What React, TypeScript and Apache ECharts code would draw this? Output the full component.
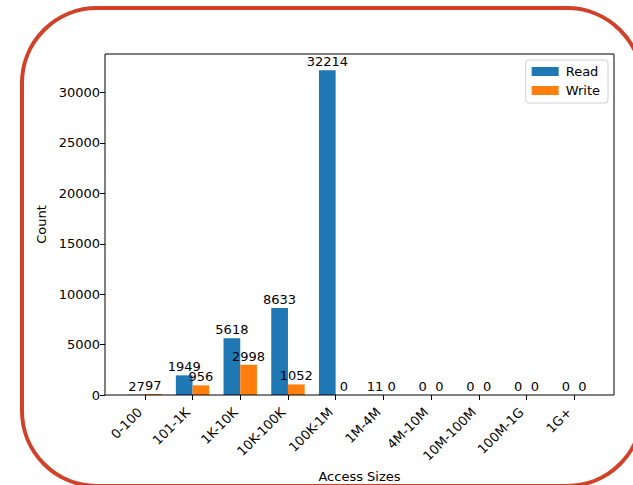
import React, { useEffect, useRef } from "react";
import * as echarts from "echarts";

const categories = ["0-100", "101-1K", "1K-10K", "10K-100K", "100K-1M", "1M-4M", "4M-10M", "10M-100M", "100M-1G", "1G+"];
const readValues = [27, 1949, 5618, 8633, 32214, 11, 0, 0, 0, 0];
const writeValues = [97, 956, 2998, 1052, 0, 0, 0, 0, 0, 0];
const yTicks = { min: 0, max: 33825, interval: 5000 };

const FONT = "DejaVu Sans";

export default function App() {
  const ref = useRef<HTMLDivElement>(null);
  useEffect(() => {
    if (!ref.current) return;
    const chart = echarts.init(ref.current, null, { renderer: "svg" });
    const labelStyle = {
      show: true,
      position: "top" as const,
      distance: 2,
      color: "#000",
      fontSize: 13,
      fontFamily: FONT,
    };
    chart.setOption({
      animation: false,
      backgroundColor: "#fff",
      textStyle: { fontFamily: FONT },
      grid: { left: 121, top: 54, width: 477, height: 341, containLabel: false, outerBoundsMode: "none" },
      legend: {
        orient: "vertical",
        right: 25,
        top: 60,
        itemWidth: 27,
        itemHeight: 9,
        itemGap: 6,
        padding: [5, 8, 6, 6],
        borderColor: "#d0d0d0",
        borderWidth: 1,
        borderRadius: 3,
        backgroundColor: "#fff",
        icon: "rect",
        textStyle: { fontSize: 13, fontFamily: FONT, color: "#000", padding: [0, 0, 0, 2] },
        data: ["Read", "Write"],
      },
      xAxis: {
        type: "category",
        data: categories,
        name: "Access Sizes",
        nameLocation: "middle",
        nameGap: 68,
        nameTextStyle: { fontSize: 13, fontFamily: FONT, color: "#000" },
        axisLine: { show: false },
        axisTick: { show: true, alignWithLabel: true, length: 5, lineStyle: { color: "#000" } },
        axisLabel: {
          rotate: 45,
          margin: 10,
          padding: [0, 7, 0, 0],
          fontSize: 13,
          fontFamily: FONT,
          color: "#000",
          interval: 0,
        },
        splitLine: { show: false },
      },
      yAxis: {
        type: "value",
        min: yTicks.min,
        max: yTicks.max,
        interval: yTicks.interval,
        offset: 16,
        name: "Count",
        nameLocation: "middle",
        nameGap: 56,
        nameTextStyle: { fontSize: 13, fontFamily: FONT, color: "#000" },
        axisLine: { show: false },
        axisTick: { show: true, length: 5, lineStyle: { color: "#000" } },
        axisLabel: {
          margin: 5,
          fontSize: 13,
          fontFamily: FONT,
          color: "#000",
          showMaxLabel: false,
          formatter: (v: number) => String(v),
        },
        splitLine: { show: false },
      },
      series: [
        {
          name: "Read",
          type: "bar",
          data: readValues,
          barWidth: 16.7,
          barGap: "0%",
          itemStyle: { color: "#1f77b4" },
          label: labelStyle,
        },
        {
          name: "Write",
          type: "bar",
          data: writeValues,
          barWidth: 16.7,
          barGap: "0%",
          itemStyle: { color: "#ff7f0e" },
          label: labelStyle,
        },
      ],
      graphic: [
        {
          type: "rect",
          shape: { x: 105, y: 54, width: 509, height: 341 },
          style: { fill: "none", stroke: "#000", lineWidth: 1 },
          silent: true,
          z: 10,
        },
        {
          type: "rect",
          shape: { x: 22, y: 8, width: 620, height: 478, r: 75 },
          style: { fill: "none", stroke: "#d04127", lineWidth: 4 },
          silent: true,
          z: 10,
        },
      ],
    });
    return () => chart.dispose();
  }, []);
  return (
    <div
      ref={ref}
      style={{ position: "fixed", left: 0, top: 0, width: 633, height: 485 }}
    />
  );
}
